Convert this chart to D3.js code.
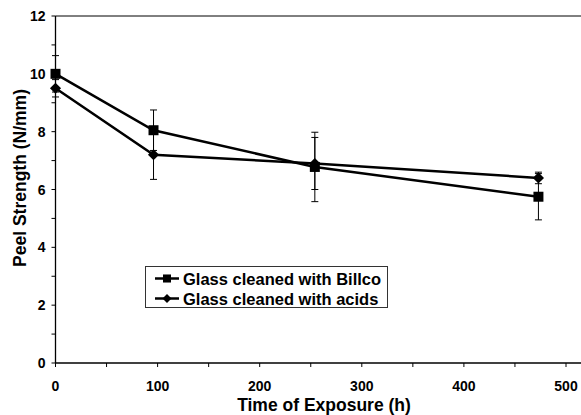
<!DOCTYPE html>
<html><head><meta charset="utf-8">
<script src="https://cdn.jsdelivr.net/npm/d3@7"></script>
<style>body{margin:0;background:#fff}svg text{font-family:Arial,Helvetica,"Liberation Sans",sans-serif;font-weight:bold}</style>
</head><body>
<svg id="c" width="581" height="415"></svg>
<script>
const times = [0, 96, 254, 473];
const billco = [10.0, 8.05, 6.78, 5.75];
const billcoErr = [0.63, 0.7, 1.2, 0.8];
const acids = [9.5, 7.2, 6.9, 6.4];
const acidsErr = [0.3, 0.85, 0.9, 0.2];
const xTicks = [0, 100, 200, 300, 400, 500];
const yTicks = [0, 2, 4, 6, 8, 10, 12];
const seriesNames = ["Glass cleaned with Billco", "Glass cleaned with acids"];

const svg = d3.select("#c");
const x = d3.scaleLinear().domain([0, 500]).range([55.5, 566]);
const y = d3.scaleLinear().domain([0, 12]).range([363, 16]);
const xRight = 581;

svg.append("line").attr("x1", x(0)).attr("x2", xRight).attr("y1", y(12)).attr("y2", y(12)).attr("stroke", "#000").attr("stroke-width", 1);

const gx = svg.append("g").attr("transform", `translate(0,${y(0)})`);
gx.append("line").attr("x1", x(0)).attr("x2", xRight).attr("stroke", "#000").attr("stroke-width", 1.3);
gx.selectAll(".mt").data(d3.range(0, 501, 50)).join("line")
  .attr("x1", d => x(d)).attr("x2", d => x(d)).attr("y1", 0).attr("y2", 4).attr("stroke", "#000");
gx.selectAll("text").data(xTicks).join("text")
  .attr("x", d => x(d)).attr("y", 28).attr("text-anchor", "middle").attr("font-size", 14).text(d => d);

const gy = svg.append("g").attr("transform", `translate(${x(0)},0)`);
gy.append("line").attr("y1", y(0)).attr("y2", y(12)).attr("stroke", "#000").attr("stroke-width", 1.3);
gy.selectAll(".mt").data(d3.range(0, 12.1, 1)).join("line")
  .attr("y1", d => y(d)).attr("y2", d => y(d)).attr("x1", -4).attr("x2", 0).attr("stroke", "#000");
gy.selectAll("text").data(yTicks).join("text")
  .attr("x", -10).attr("y", d => y(d) + 5).attr("text-anchor", "end").attr("font-size", 14).text(d => d);

svg.append("text").attr("x", 324).attr("y", 411).attr("text-anchor", "middle").attr("font-size", 17.5).text("Time of Exposure (h)");
svg.append("text").attr("transform", "translate(26,178) rotate(-90)").attr("text-anchor", "middle").attr("font-size", 17.5).text("Peel Strength (N/mm)");

function marker(sel, kind, scale) {
  if (kind === "square") sel.attr("d", d3.symbol().type(d3.symbolSquare).size(100 * scale));
  else sel.attr("d", d3.symbol().type(d3.symbolSquare).size(62 * scale));
}
const line = d3.line().x(d => x(d[0])).y(d => y(d[1]));
function drawSeries(vals, errs, kind) {
  const pts = times.map((t, i) => [t, vals[i], errs[i]]);
  const g = svg.append("g");
  g.selectAll(".eb").data(pts).join("g").each(function(d) {
    const s = d3.select(this);
    s.append("line").attr("x1", x(d[0])).attr("x2", x(d[0])).attr("y1", y(d[1] - d[2])).attr("y2", y(d[1] + d[2])).attr("stroke", "#000");
    [d[1] - d[2], d[1] + d[2]].forEach(v => s.append("line").attr("x1", x(d[0]) - 3.5).attr("x2", x(d[0]) + 3.5).attr("y1", y(v)).attr("y2", y(v)).attr("stroke", "#000"));
  });
  g.append("path").attr("d", line(pts)).attr("fill", "none").attr("stroke", "#000").attr("stroke-width", 2.5);
  g.selectAll(".m").data(pts).join("path")
    .attr("transform", d => `translate(${x(d[0])},${y(d[1])})` + (kind === "diamond" ? " rotate(45)" : ""))
    .call(marker, kind, 1).attr("fill", "#000");
}
drawSeries(billco, billcoErr, "square");
drawSeries(acids, acidsErr, "diamond");

const lg = svg.append("g");
lg.append("rect").attr("x", 145.5).attr("y", 266.5).attr("width", 242).attr("height", 41).attr("fill", "#fff").attr("stroke", "#333").attr("stroke-width", 1);
["square", "diamond"].forEach((kind, i) => {
  const cy = 278.5 + i * 20;
  lg.append("line").attr("x1", 155).attr("x2", 179).attr("y1", cy).attr("y2", cy).attr("stroke", "#000").attr("stroke-width", 2.5);
  lg.append("path").attr("transform", `translate(167,${cy})` + (kind === "diamond" ? " rotate(45)" : "")).call(marker, kind, 0.65).attr("fill", "#000");
  lg.append("text").attr("x", 183).attr("y", cy + 6).attr("font-size", 16.5).text(seriesNames[i]);
});
</script>
</body></html>
